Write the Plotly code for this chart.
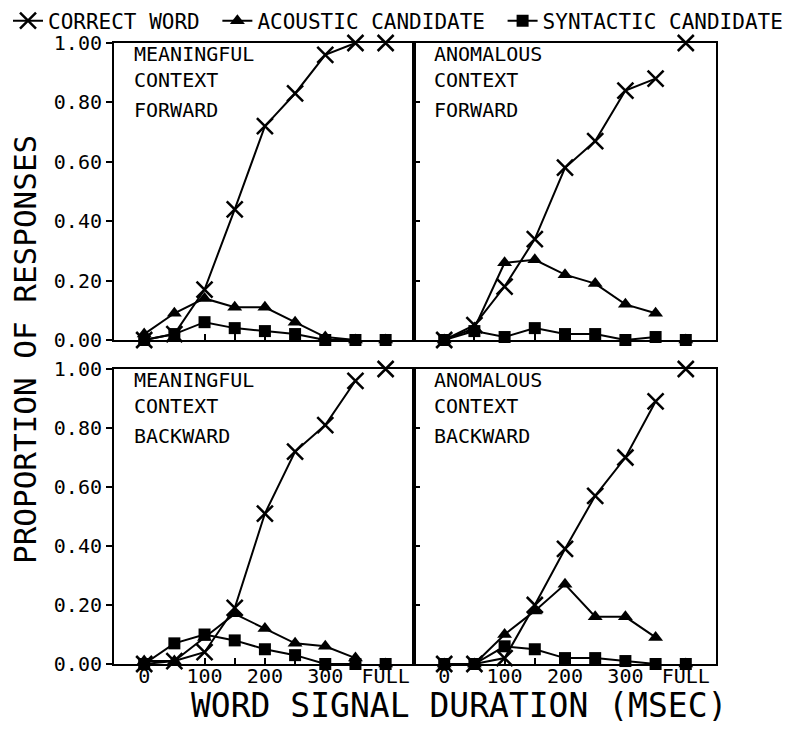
import plotly.graph_objects as go
from plotly.subplots import make_subplots

# word signal duration (msec); "FULL" plotted at 400
durations = [0, 50, 100, 150, 200, 250, 300, 350]
full_pos = 400
tick_vals = [0, 50, 100, 150, 200, 250, 300, 350, 400]
tick_text = ['0', '', '100', '', '200', '', '300', '', 'FULL']
y_ticks = [0, 0.2, 0.4, 0.6, 0.8, 1.0]

# meaningful context, forward
mf_correct = [0.00, 0.02, 0.17, 0.44, 0.72, 0.83, 0.96, 1.00]
mf_acoustic = [0.02, 0.09, 0.14, 0.11, 0.11, 0.06, 0.01, 0.00]
mf_syntactic = [0.00, 0.02, 0.06, 0.04, 0.03, 0.02, 0.00, 0.00]
mf_full = [1.00, 0.00, 0.00]

# anomalous context, forward
af_correct = [0.00, 0.05, 0.18, 0.34, 0.58, 0.67, 0.84, 0.88]
af_acoustic = [0.00, 0.04, 0.26, 0.27, 0.22, 0.19, 0.12, 0.09]
af_syntactic = [0.00, 0.03, 0.01, 0.04, 0.02, 0.02, 0.00, 0.01]
af_full = [1.00, 0.00, 0.00]

# meaningful context, backward
mb_correct = [0.00, 0.01, 0.04, 0.19, 0.51, 0.72, 0.81, 0.96]
mb_acoustic = [0.01, 0.01, 0.09, 0.17, 0.12, 0.07, 0.06, 0.02]
mb_syntactic = [0.00, 0.07, 0.10, 0.08, 0.05, 0.03, 0.00, 0.00]
mb_full = [1.00, 0.00, 0.00]

# anomalous context, backward
ab_correct = [0.00, 0.00, 0.02, 0.20, 0.39, 0.57, 0.70, 0.89]
ab_acoustic = [0.00, 0.00, 0.10, 0.18, 0.27, 0.16, 0.16, 0.09]
ab_syntactic = [0.00, 0.00, 0.06, 0.05, 0.02, 0.02, 0.01, 0.00]
ab_full = [1.00, 0.00, 0.00]

series_names = ['CORRECT WORD\u00a0', 'ACOUSTIC CANDIDATE\u00a0', 'SYNTACTIC CANDIDATE']
panels = [
    (1, 1, ['MEANINGFUL<br>CONTEXT', 'FORWARD'], [mf_correct, mf_acoustic, mf_syntactic], mf_full),
    (1, 2, ['ANOMALOUS<br>CONTEXT', 'FORWARD'], [af_correct, af_acoustic, af_syntactic], af_full),
    (2, 1, ['MEANINGFUL<br>CONTEXT', 'BACKWARD'], [mb_correct, mb_acoustic, mb_syntactic], mb_full),
    (2, 2, ['ANOMALOUS<br>CONTEXT', 'BACKWARD'], [ab_correct, ab_acoustic, ab_syntactic], ab_full),
]

mono = 'DejaVu Sans Mono'
markers = [
    dict(symbol='x-thin-open', size=16, color='black', line=dict(width=2.5, color='black')),
    dict(symbol='triangle-up', size=13, color='black'),
    dict(symbol='square', size=12, color='black'),
]

W, H = 800, 732
TOP = 30   # top margin holds the legend
OFF = 8    # page body margin shifts the figure by this much


def xpx(px):
    # pixel column in the screenshot -> paper x
    return (px - OFF) / W


def ypx(py):
    # pixel row in the screenshot -> paper y
    return (H - (py - OFF)) / (H - TOP)


fig = make_subplots(rows=2, cols=2, horizontal_spacing=0, vertical_spacing=0.05)

for row, col, label, values, full in panels:
    first = (row == 1 and col == 1)
    for i in range(3):
        fig.add_trace(go.Scatter(
            x=durations, y=values[i], mode='lines+markers',
            name=series_names[i], showlegend=first,
            line=dict(color='black', width=2), marker=markers[i], cliponaxis=False
        ), row=row, col=col)
        fig.add_trace(go.Scatter(
            x=[full_pos], y=[full[i]], mode='markers',
            name=series_names[i], showlegend=False,
            marker=markers[i], cliponaxis=False
        ), row=row, col=col)
    n = (row - 1) * 2 + col
    xref = 'x domain' if n == 1 else 'x%d domain' % n
    yref = 'y domain' if n == 1 else 'y%d domain' % n
    for text, ypos in zip(label, [1.01, 0.82]):
        fig.add_annotation(text=text, xref=xref, yref=yref, x=0.06, y=ypos,
                           xanchor='left', yanchor='top', align='left', showarrow=False,
                           font=dict(family=mono, size=20, color='black'))

x_domains = [[xpx(114), xpx(414)], [xpx(414), xpx(716)]]
x_ranges = [[-50, 447], [-50, 450]]
y_domains = [[ypx(340), ypx(43)], [ypx(664), ypx(369)]]

for row in (1, 2):
    for col in (1, 2):
        fig.update_xaxes(domain=x_domains[col - 1], range=x_ranges[col - 1],
                         tickvals=tick_vals, ticktext=tick_text,
                         showticklabels=(row == 2), ticks='inside', ticklen=6, tickwidth=2,
                         tickcolor='black', showline=True, mirror=True, linewidth=2,
                         linecolor='black', showgrid=False, zeroline=False,
                         tickfont=dict(family=mono, size=20, color='black'),
                         ticklabelstandoff=-7, automargin=False, row=row, col=col)
        fig.update_yaxes(domain=y_domains[row - 1], range=[0, 1.0],
                         tickvals=y_ticks, tickformat='.2f',
                         showticklabels=(col == 1),
                         ticks='outside' if col == 1 else 'inside', ticklen=6, tickwidth=2,
                         tickcolor='black', showline=True, mirror=True, linewidth=2,
                         linecolor='black', showgrid=False, zeroline=False,
                         tickfont=dict(family=mono, size=20, color='black'),
                         automargin=False, row=row, col=col)

fig.add_annotation(text='PROPORTION OF RESPONSES', xref='paper', yref='paper',
                   x=xpx(25), y=ypx(350), xanchor='center', yanchor='middle',
                   textangle=-90, showarrow=False,
                   font=dict(family=mono, size=31, color='black'))
fig.add_annotation(text='WORD SIGNAL DURATION (MSEC)', xref='paper', yref='paper',
                   x=xpx(459), y=ypx(705), xanchor='center', yanchor='middle',
                   showarrow=False,
                   font=dict(family=mono, size=33, color='black'))

fig.update_layout(
    width=W, height=H,
    margin=dict(l=0, r=0, t=TOP, b=0, autoexpand=False),
    plot_bgcolor='white', paper_bgcolor='white',
    showlegend=True,
    legend=dict(orientation='h', x=0, y=0.995, xanchor='left', yanchor='bottom',
                font=dict(family=mono, size=21, color='black'),
                bgcolor='rgba(0,0,0,0)', traceorder='normal'),
)

fig.write_html('out.html')
